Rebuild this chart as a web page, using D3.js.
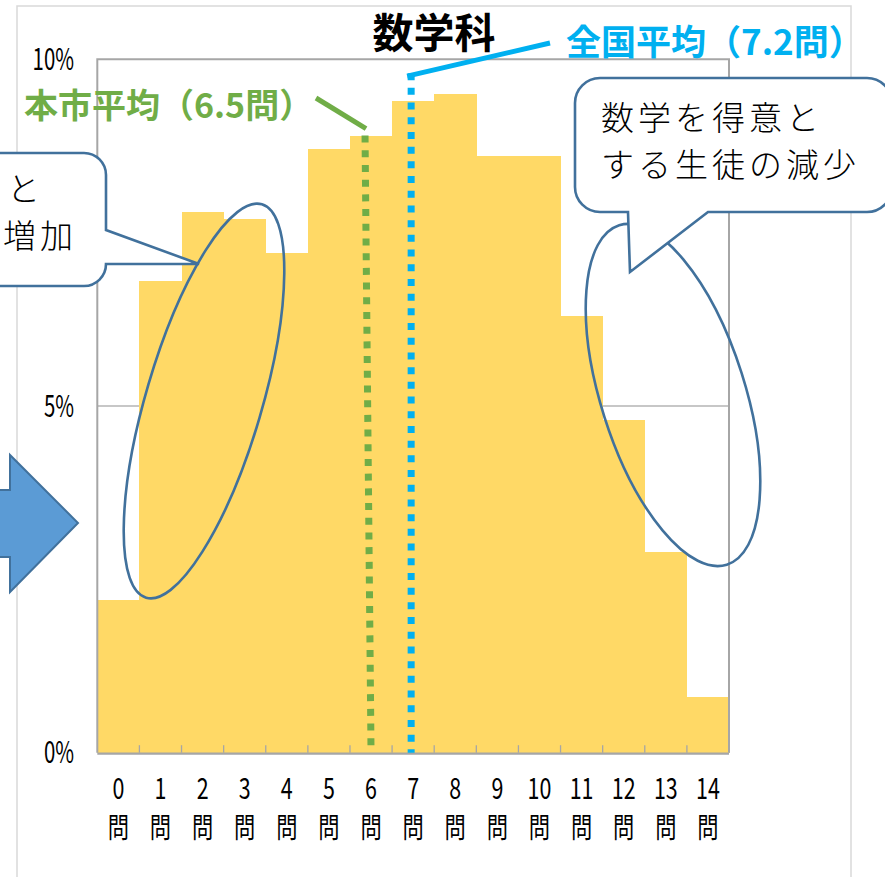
<!DOCTYPE html>
<html><head><meta charset="utf-8">
<script src="https://cdn.jsdelivr.net/npm/d3@7/dist/d3.min.js"></script>
<style>html,body{margin:0;padding:0;background:#fff;overflow:hidden}</style>
</head><body>
<script>
// ---- data ----
const title = "数学科";
const categories = ["0","1","2","3","4","5","6","7","8","9","10","11","12","13","14"];
const categoryUnit = "問";
const shares = [2.2, 6.8, 7.8, 7.7, 7.2, 8.7, 8.9, 9.4, 9.5, 8.6, 8.6, 6.3, 4.8, 2.9, 0.8];
const yTicks = [0, 5, 10];
const yTickLabels = ["0%", "5%", "10%"];
const avgLabels = ["本市平均（6.5問）", "全国平均（7.2問）"];
const avgValues = [6.5, 7.2];
const leftCalloutLines = ["と", "増加"];
const rightCalloutLines = ["数学を得意と", "する生徒の減少"];

// ---- layout ----
const W = 885, H = 877;
const plot = {left: 97.3, right: 729, top: 59.3, bottom: 752.7};
const FONT = "'Noto Sans CJK JP','Noto Sans',sans-serif";
const svg = d3.select("body").append("svg").attr("width", W).attr("height", H);

const x = d3.scaleBand().domain(categories).range([plot.left, plot.right]).padding(0);
const y = d3.scaleLinear().domain([0, 10]).range([plot.bottom, plot.top]);

// outer chart frame
svg.append("rect").attr("x", 17).attr("y", 6).attr("width", 834).attr("height", 900)
  .attr("fill", "none").attr("stroke", "#D9D9D9").attr("stroke-width", 1.5);

// gridline (5%)
svg.append("g").selectAll("line").data(yTicks.filter(v => v > 0 && v < 10)).join("line")
  .attr("x1", plot.left).attr("x2", plot.right)
  .attr("y1", d => y(d)).attr("y2", d => y(d))
  .attr("stroke", "#B5B5B5").attr("stroke-width", 1.3);

// bars
svg.append("g").selectAll("rect").data(shares).join("rect")
  .attr("x", (d, i) => x(categories[i]))
  .attr("width", x.bandwidth() + 0.5)
  .attr("y", d => y(d))
  .attr("height", d => y(0) - y(d))
  .attr("fill", "#FFD966")
  .attr("shape-rendering", "crispEdges");

// plot border (top, left, right)
svg.append("path")
  .attr("d", `M${plot.left},${plot.bottom} V${plot.top} H${plot.right} V${plot.bottom}`)
  .attr("fill", "none").attr("stroke", "#A6A6A6").attr("stroke-width", 2);

// x axis line + inside ticks
svg.append("line").attr("x1", plot.left).attr("x2", plot.right)
  .attr("y1", y(0) + 1).attr("y2", y(0) + 1)
  .attr("stroke", "#A6A6A6").attr("stroke-width", 2.2);
svg.append("g").selectAll("line").data(categories.slice(1)).join("line")
  .attr("x1", d => x(d)).attr("x2", d => x(d))
  .attr("y1", y(0) - 7.5).attr("y2", y(0))
  .attr("stroke", "#A6A6A6").attr("stroke-width", 1.3);

// y tick labels
svg.append("g").selectAll("text").data(yTicks).join("text")
  .attr("transform", d => `translate(74,${y(d) + 10.5}) scale(0.68,1)`)
  .attr("text-anchor", "end")
  .attr("font-family", FONT).attr("font-size", 30).attr("fill", "#000")
  .text((d, i) => yTickLabels[i]);

// x tick labels (two lines)
const xl = svg.append("g").selectAll("g").data(categories).join("g")
  .attr("transform", d => `translate(${x(d) + x.bandwidth() / 2},0)`);
xl.append("text").attr("transform", "translate(0,799) scale(0.74,1)")
  .attr("text-anchor", "middle").attr("font-family", FONT).attr("font-size", 29).attr("fill", "#000")
  .text(d => d);
xl.append("text").attr("transform", "translate(0,838) scale(0.76,1)")
  .attr("text-anchor", "middle").attr("font-family", FONT).attr("font-size", 28).attr("fill", "#000")
  .text(categoryUnit);

// average lines (drawn at the bar containing each average)
const avgColors = ["#70AD47", "#00B0F0"];
const avgX = avgValues.map(v => x(categories[Math.floor(v)]) + x.bandwidth() / 2);
const avgTop = [y(shares[Math.floor(avgValues[0])]), y(9.8)];
avgValues.forEach((v, i) => {
  svg.append("line")
    .attr("x1", avgX[i] - (i === 0 ? 6 : 2)).attr("x2", avgX[i] - (i === 0 ? 0 : 2))
    .attr("y1", avgTop[i]).attr("y2", y(0))
    .attr("stroke", avgColors[i]).attr("stroke-width", 7)
    .attr("stroke-dasharray", "7 7.7");
});

// leader lines
svg.append("line").attr("x1", 316).attr("y1", 98).attr("x2", avgX[0] - 5).attr("y2", avgTop[0] - 7)
  .attr("stroke", avgColors[0]).attr("stroke-width", 5);
svg.append("line").attr("x1", avgX[1] - 6).attr("y1", avgTop[1] + 3).attr("x2", 550).attr("y2", 43)
  .attr("stroke", avgColors[1]).attr("stroke-width", 5);

// average labels
svg.append("text").attr("x", 24).attr("y", 118)
  .attr("font-family", FONT).attr("font-weight", 700).attr("font-size", 34).attr("fill", avgColors[0])
  .text(avgLabels[0]);
svg.append("text").attr("x", 566).attr("y", 55)
  .attr("font-family", FONT).attr("font-weight", 700).attr("font-size", 35).attr("fill", avgColors[1])
  .text(avgLabels[1]);

// title
svg.append("text").attr("x", 434).attr("y", 48).attr("text-anchor", "middle")
  .attr("font-family", FONT).attr("font-weight", 700).attr("font-size", 41).attr("fill", "#000")
  .text(title);

// ellipses
const EL = "#41719C";
svg.append("ellipse").attr("cx", 0).attr("cy", 0).attr("rx", 58).attr("ry", 205)
  .attr("transform", "translate(204,401) rotate(16.4)")
  .attr("fill", "none").attr("stroke", EL).attr("stroke-width", 2.6);
svg.append("ellipse").attr("cx", 0).attr("cy", 0).attr("rx", 72).attr("ry", 178)
  .attr("transform", "translate(673,395) rotate(-17.6)")
  .attr("fill", "none").attr("stroke", EL).attr("stroke-width", 2.6);

// left callout
{
  const l = -220, t = 153, r = 106, b = 286, rad = 22;
  svg.append("path")
    .attr("d", `M${l},${t} H${r - rad} A${rad},${rad} 0 0 1 ${r},${t + rad} V230 L199,264 L${r},${b - rad} A${rad},${rad} 0 0 1 ${r - rad},${b} H${l} Z`)
    .attr("fill", "#fff").attr("stroke", EL).attr("stroke-width", 2.6);
}
// right callout
{
  const l = 575, t = 78, r = 892, b = 212, rad = 25;
  svg.append("path")
    .attr("d", `M${l + rad},${t} H${r - rad} A${rad},${rad} 0 0 1 ${r},${t + rad} V${b - rad} A${rad},${rad} 0 0 1 ${r - rad},${b} H708 L630,272 L628,${b} H${l + rad} A${rad},${rad} 0 0 1 ${l},${b - rad} V${t + rad} A${rad},${rad} 0 0 1 ${l + rad},${t} Z`)
    .attr("fill", "#fff").attr("stroke", EL).attr("stroke-width", 2.6);
}

// arrow
svg.append("path")
  .attr("d", "M-40,490 H10 V455 L78,523 L10,592 V557 H-40 Z")
  .attr("fill", "#5B9BD5").attr("stroke", EL).attr("stroke-width", 2);

// callout texts
const leftTextX = [7, 3];
svg.append("g").selectAll("text").data(leftCalloutLines).join("text")
  .attr("x", (d, i) => leftTextX[i]).attr("y", (d, i) => 201 + i * 47)
  .attr("font-family", FONT).attr("font-weight", 300).attr("font-size", 33).attr("letter-spacing", 4)
  .attr("fill", "#000").text(d => d);
svg.append("g").selectAll("text").data(rightCalloutLines).join("text")
  .attr("x", 601).attr("y", (d, i) => 130 + i * 47)
  .attr("font-family", FONT).attr("font-weight", 300).attr("font-size", 33).attr("letter-spacing", 4)
  .attr("fill", "#000").text(d => d);
</script>
</body></html>
